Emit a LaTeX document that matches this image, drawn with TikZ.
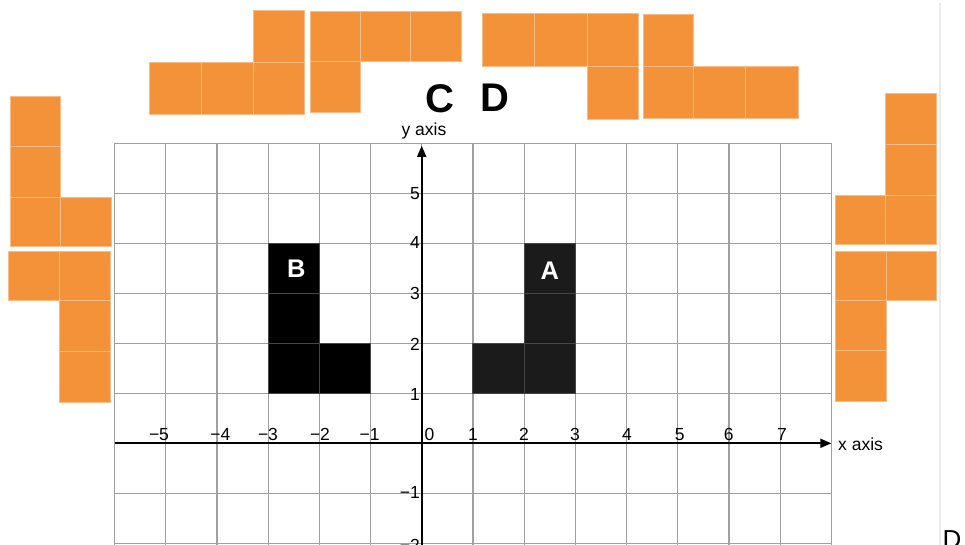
\documentclass[tikz,border=0pt]{standalone}
\usepackage{fontspec}
\setmainfont{Liberation Sans}
\usetikzlibrary{arrows.meta}
\definecolor{tileor}{RGB}{243,146,57}
\definecolor{tileedge}{RGB}{248,188,138}
\definecolor{gridgray}{RGB}{160,160,160}
\definecolor{shapeA}{RGB}{27,27,27}
\newcommand\otile[4]{\filldraw[tile] (#1,#2) rectangle (#3,#4);}
\tikzset{
  tile/.style={fill=tileor, draw=tileedge, line width=0.8pt},
  gridline/.style={draw=gridgray, line width=1.2pt},
  cellline/.style={draw=gray!55!black, line width=1pt},
  axisline/.style={draw=black, line width=1.8pt, -{Triangle[length=11pt,width=9pt]}},
  lab/.style={font=\fontsize{17.5}{19}\selectfont, inner sep=0pt},
  big/.style={font=\fontsize{40}{44}\selectfont\bfseries, inner sep=0pt},
  cellab/.style={font=\fontsize{25.5}{28}\selectfont\bfseries, text=white, inner sep=0pt}
}
\begin{document}
\begin{tikzpicture}[x=1pt,y=-1pt]
\useasboundingbox (0,0) rectangle (965,545);
\fill[white] (0,0) rectangle (965,545);
% separator line at the right
\draw[color=gray!16, line width=1.5pt] (940,3) -- (940,545);
% ---- orange tiles ----
% piece 1
\otile{149.3}{62.3}{201.3}{114.3}
\otile{201.3}{62.3}{253.3}{114.3}
\otile{253.3}{62.3}{304}{114.3}
\otile{253.3}{10}{304}{62.3}
% piece 2
\otile{310.7}{11}{360}{61.7}
\otile{360}{11}{410.7}{61.7}
\otile{410.7}{11}{461.7}{61.7}
\otile{310.7}{61.7}{360}{112.7}
% piece 3
\otile{482}{13.3}{534.3}{66}
\otile{534.3}{13.3}{587.3}{66}
\otile{587.3}{13.3}{638.3}{66}
\otile{587.3}{66}{638.3}{119}
% piece 4
\otile{643.3}{14}{693.3}{66}
\otile{643.3}{66}{693.3}{118.3}
\otile{693.3}{66}{745.7}{118.3}
\otile{745.7}{66}{798}{118.3}
% piece 5
\otile{10}{96.7}{60.3}{146.7}
\otile{10}{146.7}{60.3}{197.3}
\otile{10}{197.3}{60.3}{246}
\otile{60.3}{197.3}{111}{246}
% piece 6
\otile{8.3}{251.7}{59.3}{300.7}
\otile{59.3}{251.7}{110}{300.7}
\otile{59.3}{300.7}{110}{351.7}
\otile{59.3}{351.7}{110}{402.3}
% piece 7
\otile{885.7}{93.3}{936.7}{144.3}
\otile{885.7}{144.3}{936.7}{195}
\otile{885.7}{195}{936.7}{244.3}
\otile{835}{195}{885.7}{244.3}
% piece 8
\otile{835}{251.7}{886}{300.7}
\otile{886}{251.7}{936.7}{300.7}
\otile{835}{300.7}{886}{350.7}
\otile{835}{350.7}{886}{401.7}
% ---- coordinate grid ----
\begin{scope}[shift={(421.7,443.3)}, x=51.2pt, y=50pt]
  \foreach \i in {-6,...,8} \draw[gridline] (\i,-2.3) -- (\i,6);
  \foreach \j in {-2,...,6} \draw[gridline] (-6,\j) -- (8,\j);
  % shape B
  \fill[black] (-3,1) rectangle (-2,4);
  \fill[black] (-2,1) rectangle (-1,2);
  \foreach \y in {1,2,3} \draw[cellline] (-3,\y) rectangle (-2,\y+1);
  \draw[cellline] (-2,1) rectangle (-1,2);
  % shape A
  \fill[shapeA] (2,1) rectangle (3,4);
  \fill[shapeA] (1,1) rectangle (2,2);
  \foreach \y in {1,2,3} \draw[cellline] (2,\y) rectangle (3,\y+1);
  \draw[cellline] (1,1) rectangle (2,2);
  \node[cellab] (labB) at (-2.45,3.5) {B};
  \node[cellab] (labA) at (2.5,3.45) {A};
  % axes
  \coordinate (xstart) at (-6,0);
  \coordinate (xend) at (8,0);
  \coordinate (ystart) at (0,-2.3);
  \coordinate (yend) at (0,5.95);
  \draw[axisline] (xstart) -- (xend);
  \draw[axisline] (ystart) -- (yend);
\end{scope}
% axis names
\node[lab, anchor=base] (yname) at (424,136) {y axis};
\node[lab, anchor=west] (xname) at (838,444) {x axis};
% x tick labels
\node[lab, anchor=base] (xm5) at (159,440) {−5};
\node[lab, anchor=base] (xm4) at (220.3,440) {−4};
\node[lab, anchor=base] (xm3) at (268,440) {−3};
\node[lab, anchor=base] (xm2) at (320,440) {−2};
\node[lab, anchor=base] (xm1) at (369.7,440) {−1};
\node[lab, anchor=base] (x0) at (429.5,440) {0};
\node[lab, anchor=base] (x1) at (473,440) {1};
\node[lab, anchor=base] (x2) at (524,440) {2};
\node[lab, anchor=base] (x3) at (575,440) {3};
\node[lab, anchor=base] (x4) at (627,440) {4};
\node[lab, anchor=base] (x5) at (679.7,440) {5};
\node[lab, anchor=base] (x6) at (728.7,440) {6};
\node[lab, anchor=base] (x7) at (782,440) {7};
% y tick labels
\node[lab, anchor=east] (y5) at (420,193.3) {5};
\node[lab, anchor=east] (y4) at (420,242.7) {4};
\node[lab, anchor=east] (y3) at (420,293.3) {3};
\node[lab, anchor=east] (y2) at (420,344.3) {2};
\node[lab, anchor=east] (y1) at (420,394) {1};
\node[lab, anchor=east] (ym1) at (420,492) {−1};
\node[lab, anchor=east] (ym2) at (420,545) {−2};
% big letters
\node[big] (C) at (440,99) {C};
\node[big] (D) at (494.5,98) {D};
\node[font=\fontsize{26}{28}\selectfont, inner sep=0pt, anchor=base west] (Dcorner) at (942.5,548) {D};
\end{tikzpicture}
\end{document}
